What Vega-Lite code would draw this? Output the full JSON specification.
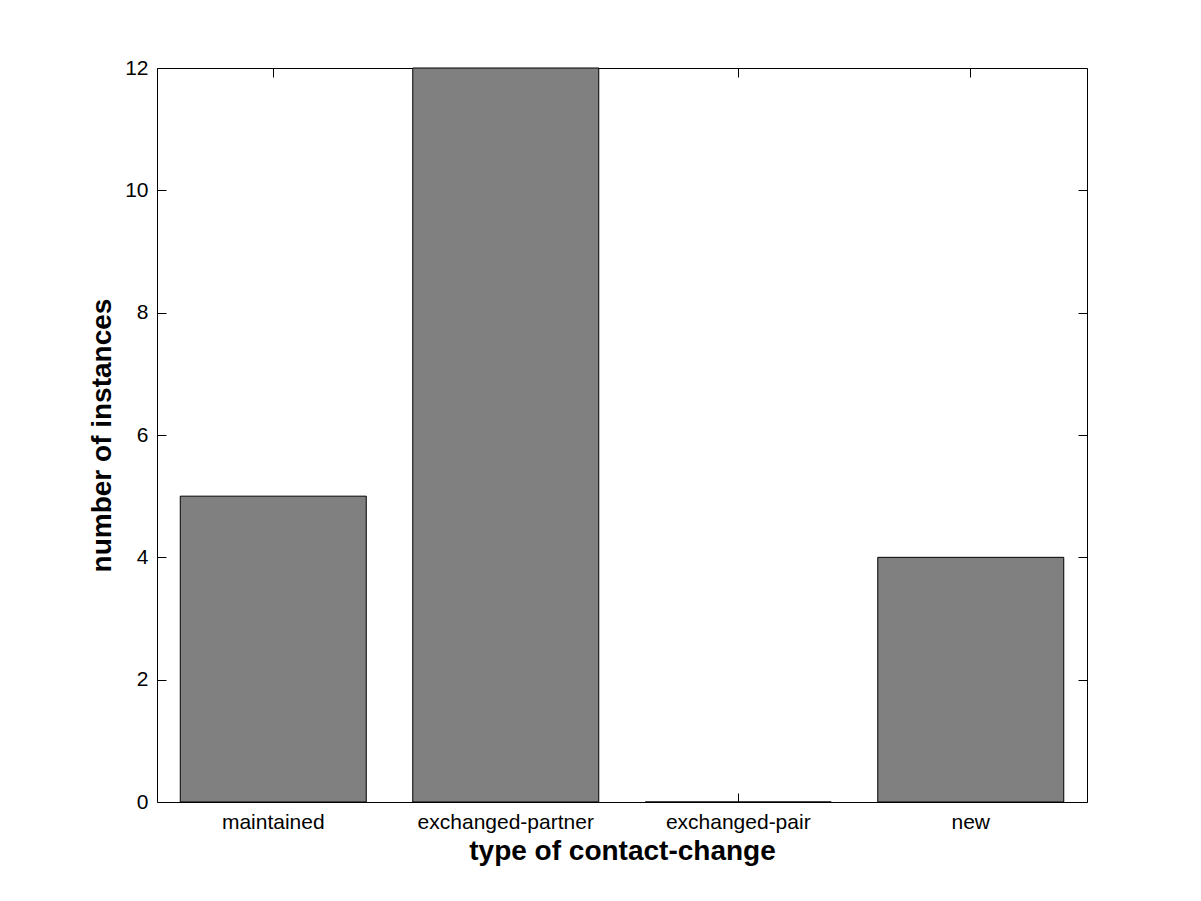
{
  "$schema": "https://vega.github.io/schema/vega-lite/v6.json",
  "autosize": {"type": "none"},
  "padding": {"left": 157, "top": 68, "right": 114, "bottom": 99},
  "width": 930,
  "height": 734,
  "background": "white",
  "config": {
    "view": {"stroke": "black", "strokeWidth": 1},
    "font": "Liberation Sans",
    "axis": {"labelFont": "Liberation Sans", "titleFont": "Liberation Sans", "labelColor": "black", "titleColor": "black", "tickColor": "black", "domain": false, "grid": false}
  },
  "data": {"values": [
    {"type": "maintained", "count": 5},
    {"type": "exchanged-partner", "count": 12},
    {"type": "exchanged-pair", "count": 0},
    {"type": "new", "count": 4}
  ]},
  "layer": [
    {
      "mark": {"type": "bar", "fill": "#808080", "stroke": "black", "strokeWidth": 1},
      "encoding": {
        "x": {"field": "type", "type": "nominal", "sort": null,
          "scale": {"paddingInner": 0.2, "paddingOuter": 0.1},
          "axis": {"orient": "bottom", "title": "type of contact-change", "labelAngle": 0, "labelFontSize": 21, "tickSize": -9, "labelPadding": 18, "titleFontSize": 28, "titleFontWeight": "bold", "titlePadding": 5}},
        "y": {"field": "count", "type": "quantitative",
          "scale": {"domain": [0, 12], "nice": false},
          "axis": {"orient": "left", "title": "number of instances", "values": [0, 2, 4, 6, 8, 10, 12], "labelFontSize": 21, "tickSize": -9, "labelPadding": 18, "titleFontSize": 28, "titleFontWeight": "bold", "titlePadding": 8}}
      }
    },
    {
      "mark": {"type": "bar", "opacity": 0},
      "encoding": {
        "x": {"field": "type", "type": "nominal", "sort": null,
          "axis": {"orient": "top", "title": null, "labels": false, "tickSize": -9}},
        "y": {"field": "count", "type": "quantitative",
          "axis": {"orient": "right", "title": null, "labels": false, "values": [0, 2, 4, 6, 8, 10, 12], "tickSize": -9}}
      }
    }
  ],
  "resolve": {"axis": {"x": "independent", "y": "independent"}}
}
